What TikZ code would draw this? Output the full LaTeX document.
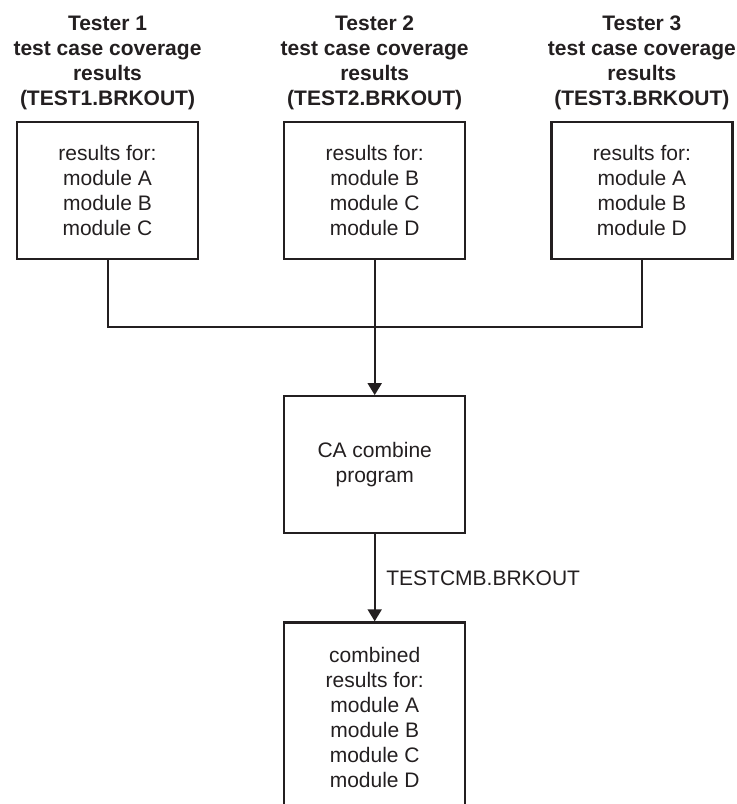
\documentclass[tikz,border=0pt]{standalone}
\usepackage{fontspec}
\setmainfont{Liberation Sans}
\usepackage{xcolor}
\usetikzlibrary{arrows.meta,positioning}
\definecolor{ink}{HTML}{231F20}

\begin{document}
\begin{tikzpicture}[
    x=0.5pt, y=-0.5pt,
    node distance=42pt,
    result/.style={draw=ink, line width=1.1pt, minimum width=90.5pt, minimum height=68.5pt,
                   font=\fontsize{10.5}{12.5}\selectfont, text=ink, align=center},
    head/.style={font=\fontsize{10.5}{12.5}\selectfont\bfseries, text=ink, align=center},
    link/.style={draw=ink, line width=1pt},
    arr/.style={link, -{Triangle[length=6pt, width=7pt]}},
    lbl/.style={font=\fontsize{10.5}{12.5}\selectfont, text=ink},
]
\useasboundingbox (0,0) rectangle (736,804);

\node[result] (res1) at (107.5,190.5) {results for:\\module A\\module B\\module C};
\node[result, right=of res1] (res2) {results for:\\module B\\module C\\module D};
\node[result, right=of res2] (res3) {results for:\\module A\\module B\\module D};

\node[head, above=2pt of res1] (head1) {Tester 1\\test case coverage\\results\\(TEST1.BRKOUT)};
\node[head, above=2pt of res2] (head2) {Tester 2\\test case coverage\\results\\(TEST2.BRKOUT)};
\node[head, above=2pt of res3] (head3) {Tester 3\\test case coverage\\results\\(TEST3.BRKOUT)};

\node[result, below=67.5pt of res2] (combine) {CA combine\\program};
\node[result, below=43.5pt of combine, minimum height=95pt] (merged)
    {combined\\results for:\\module A\\module B\\module C\\module D};

\coordinate[below=33.5pt of res2] (join);

\draw[link] (res1.south) |- (join) -| (res3.south);
\draw[arr] (res2) -- (combine);
\draw[arr] (combine) -- (merged) node[lbl, midway, right=2pt] {TESTCMB.BRKOUT};
\end{tikzpicture}
\end{document}
